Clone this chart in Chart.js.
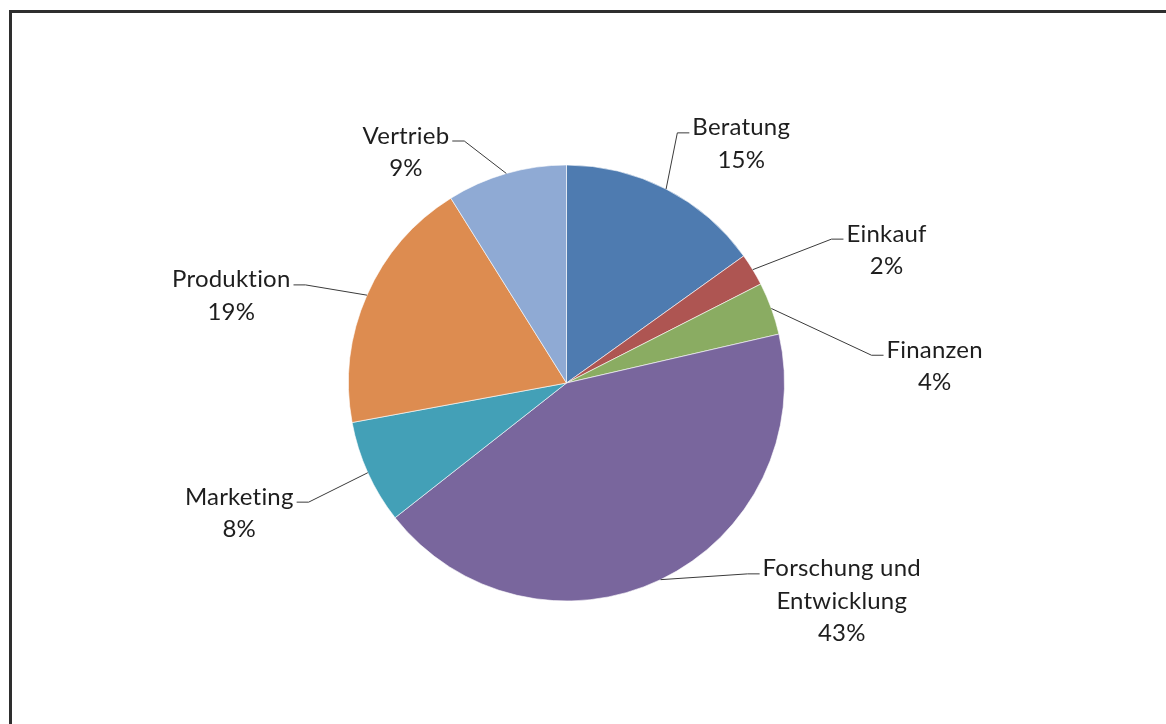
<!DOCTYPE html>
<html>
<head>
<meta charset="utf-8">
<script src="https://cdn.jsdelivr.net/npm/chart.js@4/dist/chart.umd.min.js"></script>
<style>
  body { margin: 0; background: #fff; }
  #frame { position: absolute; left: 9px; top: 10px; width: 1200px; height: 800px; border-left: 3px solid #2e2e2e; border-top: 3px solid #2e2e2e; }
  #myChart { position: absolute; left: 0; top: 0; }
</style>
</head>
<body>
<div id="frame"></div>
<canvas id="myChart" width="1166" height="724"></canvas>
<script>
// Kategorien und Anteile (in %)
const categories = ['Beratung', 'Einkauf', 'Finanzen', ['Forschung und', 'Entwicklung'], 'Marketing', 'Produktion', 'Vertrieb'];
const shares = [15.1, 2.4, 3.9, 43.0, 7.7, 19.0, 8.9];
const colors = ['#4e7bb0', '#ae5552', '#8aac62', '#79669d', '#43a0b7', '#dd8c50', '#8faad4'];

// Beschriftung: Knickpunkt der Fuehrungslinie (Winkel ab 12 Uhr, Abstand in Radien)
const labelAngle = [23.9, 61.5, 84.8, 136.5, 245.2, 290.6, 337.1];
const labelDist = [1.255, 1.383, 1.405, 1.207, 1.303, 1.279, 1.205];

const leaderLabels = {
	id: 'leaderLabels',
	afterDatasetsDraw(chart) {
		const ctx = chart.ctx;
		const meta = chart.getDatasetMeta(0);
		const data = chart.data.datasets[0].data;
		const total = data.reduce((a, b) => a + b, 0);

		ctx.save();
		ctx.font = '24px Lato';
		ctx.letterSpacing = '0.2px';
		ctx.fillStyle = '#1e1e1e';
		ctx.strokeStyle = '#3a3a3a';
		ctx.lineWidth = 1;
		ctx.textBaseline = 'alphabetic';
		ctx.textAlign = 'center';

		meta.data.forEach(function(arc, i) {
			const p = arc.getProps(['x', 'y', 'startAngle', 'endAngle', 'outerRadius'], true);
			const mid = (p.startAngle + p.endAngle) / 2;
			const ex = p.x + Math.cos(mid) * p.outerRadius;
			const ey = p.y + Math.sin(mid) * p.outerRadius;

			const a = labelAngle[i] * Math.PI / 180 - Math.PI / 2;
			const kx = p.x + Math.cos(a) * p.outerRadius * labelDist[i];
			const ky = p.y + Math.sin(a) * p.outerRadius * labelDist[i];
			const right = kx > p.x;
			const tx = right ? kx + 12 : kx - 12;

			ctx.beginPath();
			ctx.moveTo(ex, ey);
			ctx.lineTo(kx, ky);
			ctx.lineTo(tx, ky);
			ctx.stroke();

			const name = chart.data.labels[i];
			const lines = (Array.isArray(name) ? name.slice() : [name]);
			lines.push(Math.round(data[i] / total * 100) + '%');
			const w = Math.max.apply(null, lines.map(l => ctx.measureText(l).width));
			const cx = right ? tx + 3 + w / 2 : tx - 3 - w / 2;
			lines.forEach(function(l, j) {
				ctx.fillText(l, cx, ky + 2.5 + j * 32.5);
			});
		});
		ctx.restore();
	}
};

let chart = new Chart(document.getElementById('myChart').getContext('2d'), {
	type: 'pie',
	data: {
		labels: categories,
		datasets: [{
			data: shares,
			backgroundColor: colors,
			borderColor: 'rgba(255, 255, 255, 0.6)',
			borderWidth: 1
		}]
	},
	options: {
		responsive: false,
		animation: false,
		layout: { padding: { left: 348, right: 381, top: 164, bottom: 122 } },
		plugins: {
			legend: { display: false },
			tooltip: { enabled: false }
		}
	},
	plugins: [leaderLabels]
});
</script>
</body>
</html>
